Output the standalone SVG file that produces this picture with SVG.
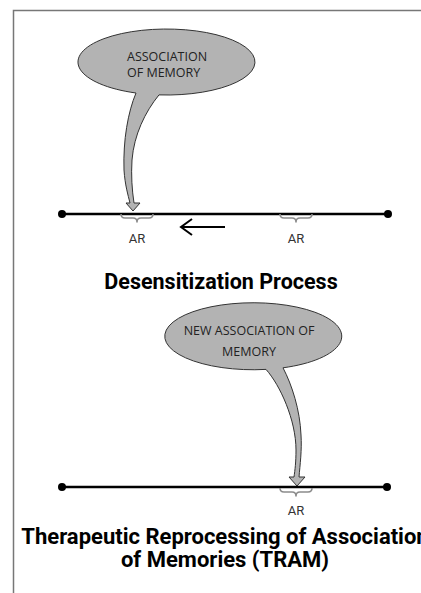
<svg xmlns="http://www.w3.org/2000/svg" width="421" height="593" viewBox="0 0 421 593">
<style>
.bubble{fill:#b3b3b3;stroke:#333;stroke-width:1;stroke-linejoin:round}
.btxt{font-family:"Open Sans","Noto Sans",sans-serif;font-size:12.5px;fill:#222}
.tl{stroke:#000;stroke-width:2.5;fill:none}
.dot{fill:#000}
.brace{fill:none;stroke:#8c8c8c;stroke-width:1.6;stroke-linejoin:round}
.ar{font-family:Roboto,"Liberation Sans",sans-serif;font-size:13px;fill:#333;text-anchor:middle}
.title{font-family:Roboto,"Liberation Sans",sans-serif;font-weight:bold;fill:#000;text-anchor:middle}
.frame{stroke:#777;stroke-width:1.5;fill:none}
</style>
<rect width="421" height="593" fill="#fff"/>
<path class="frame" d="M421,10.5 H13.5 V593"/>

<g id="callout-1">
<path class="bubble" d="M159,94.9 A88.5,33 0 1 0 136,93 C128,112 123,140 124,170 C125,185 128,195 130,203 L126,203 L133,211 L140,203 L134,203 C132,190 131,175 132,160 C134,135 145,112 159,94.9 Z"/>
<text class="btxt" x="127" y="61">ASSOCIATION</text>
<text class="btxt" x="127" y="77">OF MEMORY</text>
</g>

<g id="timeline-1">
<line class="tl" x1="62" y1="214" x2="388" y2="214"/>
<circle class="dot" cx="62" cy="214" r="4"/>
<circle class="dot" cx="388" cy="214" r="4"/>
<path class="brace" d="M121,214 q0,4 4,4 h8 q4,0 4,4 q0,-4 4,-4 h8 q4,0 4,-4"/>
<path class="brace" d="M280,214 q0,4 4,4 h8 q4,0 4,4 q0,-4 4,-4 h8 q4,0 4,-4"/>
<text class="ar" x="137" y="243">AR</text>
<text class="ar" x="296" y="243">AR</text>
</g>

<g id="connectors">
<path d="M225,227 H181 M192,219 L181,227 L192,235" fill="none" stroke="#000" stroke-width="2"/>
</g>

<g id="title-1">
<text class="title" x="221" y="289" font-size="21.5">Desensitization Process</text>
</g>

<g id="callout-2">
<path class="bubble" d="M283,367.8 A88.5,33.5 0 1 0 266,369.4 C280,385 296,420 296,450 C296,462 295,470 294,477 L289,477 L297,486 L305,477 L299,477 C300,465 302,450 301,435 C300,410 292,385 283,367.8 Z"/>
<text class="btxt" x="249" y="335" text-anchor="middle">NEW ASSOCIATION OF</text>
<text class="btxt" x="249" y="356" text-anchor="middle">MEMORY</text>
</g>

<g id="timeline-2">
<line class="tl" x1="62" y1="487" x2="387" y2="487"/>
<circle class="dot" cx="62" cy="487" r="4"/>
<circle class="dot" cx="387" cy="487" r="4"/>
<path class="brace" d="M280,488 q0,4 4,4 h8 q4,0 4,4 q0,-4 4,-4 h8 q4,0 4,-4"/>
<text class="ar" x="296" y="515">AR</text>
</g>

<g id="title-2">
<text class="title" x="225" y="544" font-size="22">Therapeutic Reprocessing of Association</text>
<text class="title" x="225" y="567" font-size="22">of Memories (TRAM)</text>
</g>
</svg>
